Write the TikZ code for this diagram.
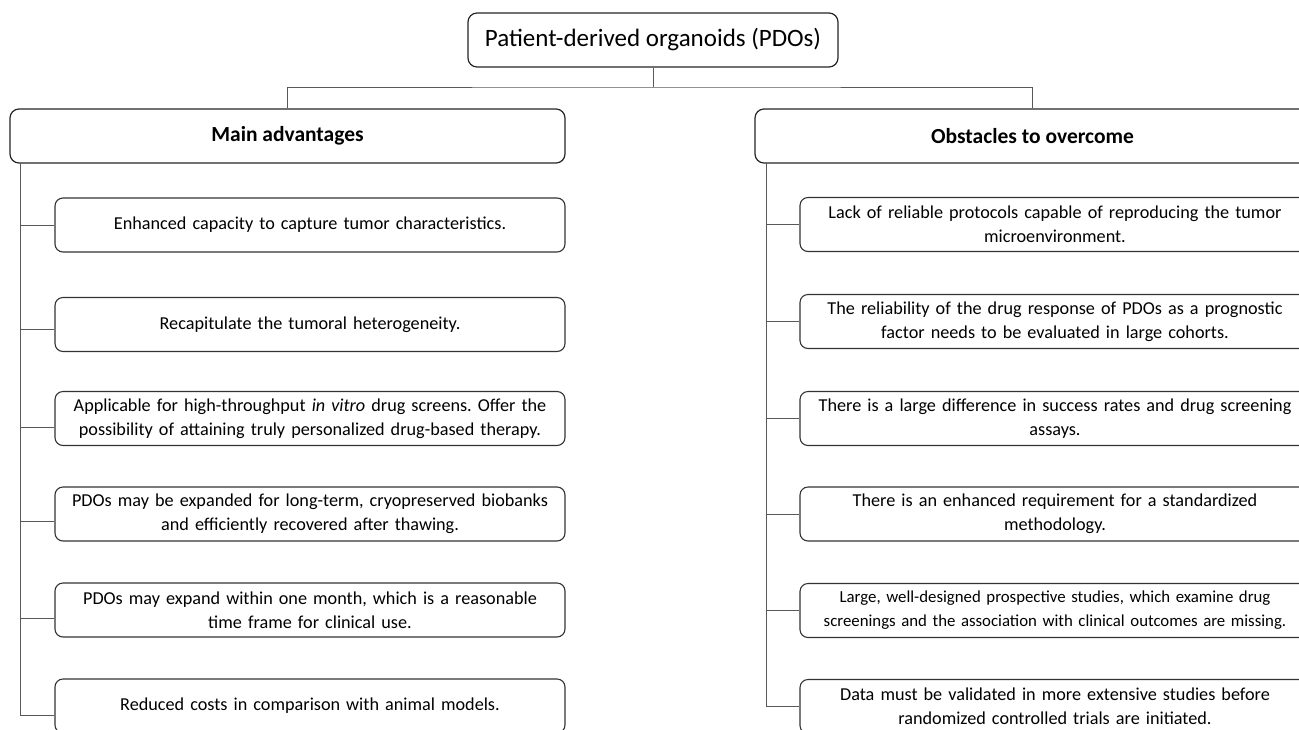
\documentclass[tikz,border=0pt]{standalone}
\usepackage{fontspec}
\setmainfont{Carlito}
\frenchspacing
\begin{document}
\begin{tikzpicture}[x=1pt,y=-1pt,
  box/.style={draw=black!80, line width=1.1pt, rounded corners=8pt, align=center, inner sep=0pt, text width=500pt, minimum width=510pt, minimum height=54pt, font=\fontsize{18.2}{24}\selectfont},
  head/.style={draw=black!85, line width=1.2pt, rounded corners=9pt, align=center, inner sep=0pt, minimum width=555pt, minimum height=54pt, font=\fontsize{21.5}{24}\selectfont\bfseries},
  topbox/.style={draw=black!85, line width=1.2pt, rounded corners=9pt, inner sep=0pt, minimum width=370pt, minimum height=54pt, font=\fontsize{25}{28}\selectfont},
  conn/.style={draw=black!65, line width=0.9pt}]
\useasboundingbox (0,0) rectangle (1299,729);
\clip (0,0) rectangle (1299,729);
\fill[white] (0,0) rectangle (1299,729);

\node[topbox] (top) at (653,40) {Patient-derived organoids (PDOs)};
\node[head] (hL) at (287.5,136) {Main advantages};
\node[head] (hR) at (1032.5,136) {Obstacles to overcome};

\node[box] (a1) at (310,225) {Enhanced capacity to capture tumor characteristics.};
\node[box] (a2) at (310,324.5) {Recapitulate the tumoral heterogeneity.};
\node[box] (a3) at (310,418.5) {Applicable for high-throughput \textit{in vitro} drug screens. Offer the\\possibility of attaining truly personalized drug-based therapy.};
\node[box] (a4) at (310,514) {PDOs may be expanded for long-term, cryopreserved biobanks\\and efficiently recovered after thawing.};
\node[box] (a5) at (310,610) {PDOs may expand within one month, which is a reasonable\\time frame for clinical use.};
\node[box] (a6) at (310,706) {Reduced costs in comparison with animal models.};

\node[box] (b1) at (1055,224.5) {Lack of reliable protocols capable of reproducing the tumor\\microenvironment.};
\node[box] (b2) at (1055,321.5) {The reliability of the drug response of PDOs as a prognostic\\factor needs to be evaluated in large cohorts.};
\node[box] (b3) at (1055,418.5) {There is a large difference in success rates and drug screening\\assays.};
\node[box] (b4) at (1055,514) {There is an enhanced requirement for a standardized\\methodology.};
\node[box, font=\fontsize{16.8}{24}\selectfont] (b5) at (1055,610.5) {Large, well-designed prospective studies, which examine drug\\screenings and the association with clinical outcomes are missing.};
\node[box] (b6) at (1055,706.5) {Data must be validated in more extensive studies before\\randomized controlled trials are initiated.};

% top connectors
\coordinate (j) at (653,87);
\draw[conn] (top.south) -- (j);
\draw[conn] (hL.north) |- (j) -| (hR.north);

% left trunk
\coordinate (tL) at (20,163);
\coordinate (l1) at (20,225);
\coordinate (l2) at (20,329);
\coordinate (l3) at (20,427);
\coordinate (l4) at (20,521);
\coordinate (l5) at (20,618);
\coordinate (l6) at (20,715);
\draw[conn] (tL) -- (l6);
\foreach \i in {1,...,6} {\draw[conn] (l\i) -- (l\i -| a\i.west);}

% right trunk
\coordinate (tR) at (766,163);
\coordinate (r6) at (766,707);
\draw[conn] (tR) -- (r6);
\foreach \i in {1,...,6} {\draw[conn] (tR |- b\i.west) -- (b\i.west);}
\end{tikzpicture}
\end{document}
